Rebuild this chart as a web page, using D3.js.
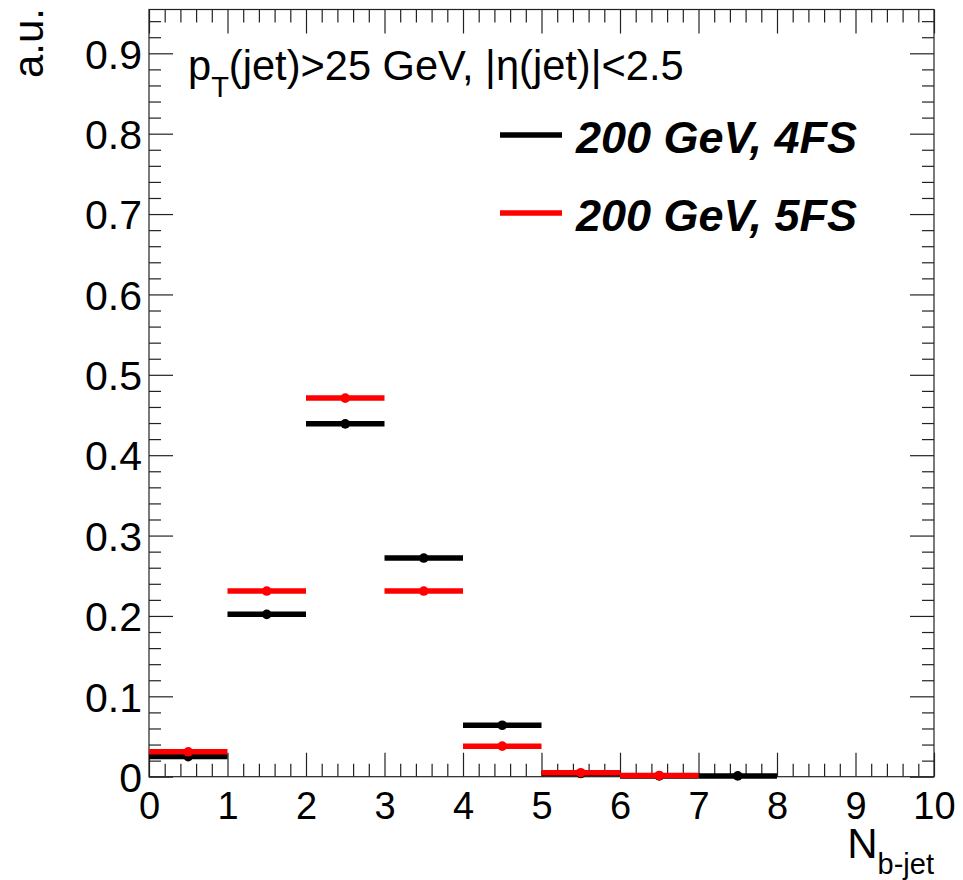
<!DOCTYPE html>
<html><head><meta charset="utf-8">
<script src="https://cdn.jsdelivr.net/npm/d3@7"></script>
<style>
body{margin:0;background:#fff;}
svg{display:block;font-family:"Liberation Sans",Arial,Helvetica,sans-serif;}
</style></head>
<body><svg id="c" width="963" height="880"></svg>
<script>
// Data
const binEdges = [0,1,2,3,4,5,6,7,8,9,10];
const seriesNames = ["200 GeV, 4FS","200 GeV, 5FS"];
const values4FS = [0.025,0.202,0.439,0.272,0.064,0.004,0.001,0.001,0,0];
const values5FS = [0.031,0.231,0.471,0.231,0.038,0.005,0.0015,0,0,0];
const xTickLabels = ["0","1","2","3","4","5","6","7","8","9","10"];
const yTickValues = [0,0.1,0.2,0.3,0.4,0.5,0.6,0.7,0.8,0.9];
const yTickLabels = ["0","0.1","0.2","0.3","0.4","0.5","0.6","0.7","0.8","0.9"];

const svg = d3.select("#c");
const L=149, R=934, T=9.5, B=776.7;
const x = d3.scaleLinear().domain([0,10]).range([L,R]);
const y = d3.scaleLinear().domain([0,0.9545]).range([B,T]);
const frameCol="#222";

// minor ticks
const xMinor = d3.range(0,10.001,0.2).filter(v=>Math.abs(v-Math.round(v))>1e-6);
const yMinor = d3.range(0,0.95,0.02).filter(v=>Math.abs(v*10-Math.round(v*10))>1e-6);

function styleAxis(g){
  g.select(".domain").remove();
  g.selectAll(".tick line").attr("stroke",frameCol).attr("stroke-width",1.2);
}
// bottom
svg.append("g").attr("transform",`translate(0,${B})`)
  .call(d3.axisBottom(x).tickValues(binEdges).tickFormat((d,i)=>xTickLabels[i]).tickSizeInner(-24).tickSizeOuter(0).tickPadding(15))
  .call(styleAxis)
  .call(g=>g.selectAll("text").attr("font-size",38).attr("fill","#000").attr("font-family","Liberation Sans, Arial, sans-serif"));
svg.append("g").attr("transform",`translate(0,${B})`)
  .call(d3.axisBottom(x).tickValues(xMinor).tickFormat("").tickSizeInner(-13).tickSizeOuter(0)).call(styleAxis);
// top
svg.append("g").attr("transform",`translate(0,${T})`)
  .call(d3.axisTop(x).tickValues(binEdges).tickFormat("").tickSizeInner(-24).tickSizeOuter(0)).call(styleAxis);
svg.append("g").attr("transform",`translate(0,${T})`)
  .call(d3.axisTop(x).tickValues(xMinor).tickFormat("").tickSizeInner(-13).tickSizeOuter(0)).call(styleAxis);
// left
svg.append("g").attr("transform",`translate(${L},0)`)
  .call(d3.axisLeft(y).tickValues(yTickValues).tickFormat((d,i)=>yTickLabels[i]).tickSizeInner(-24).tickSizeOuter(0).tickPadding(7))
  .call(styleAxis)
  .call(g=>g.selectAll("text").attr("font-size",41).attr("fill","#000").attr("font-family","Liberation Sans, Arial, sans-serif").attr("dy","0.36em"));
svg.append("g").attr("transform",`translate(${L},0)`)
  .call(d3.axisLeft(y).tickValues(yMinor).tickFormat("").tickSizeInner(-12).tickSizeOuter(0)).call(styleAxis);
// right
svg.append("g").attr("transform",`translate(${R},0)`)
  .call(d3.axisRight(y).tickValues(yTickValues).tickFormat("").tickSizeInner(-24).tickSizeOuter(0)).call(styleAxis);
svg.append("g").attr("transform",`translate(${R},0)`)
  .call(d3.axisRight(y).tickValues(yMinor).tickFormat("").tickSizeInner(-12).tickSizeOuter(0)).call(styleAxis);

// frame
svg.append("rect").attr("x",L).attr("y",T).attr("width",R-L).attr("height",B-T)
  .attr("fill","none").attr("stroke",frameCol).attr("stroke-width",1.2);

// histograms
const series = [
  {name:seriesNames[0], vals:values4FS, color:"#000"},
  {name:seriesNames[1], vals:values5FS, color:"#ff0000"}
];
series.forEach(s=>{
  const g = svg.append("g");
  s.vals.forEach((v,i)=>{
    if(v<=0) return;
    g.append("line").attr("x1",x(binEdges[i])).attr("x2",x(binEdges[i+1]))
      .attr("y1",y(v)).attr("y2",y(v)).attr("stroke",s.color).attr("stroke-width",5.5);
    g.append("circle").attr("cx",x((binEdges[i]+binEdges[i+1])/2)).attr("cy",y(v))
      .attr("r",4.8).attr("fill",s.color);
  });
});

// legend
const legY=[135,213];
series.forEach((s,i)=>{
  svg.append("line").attr("x1",500).attr("x2",562).attr("y1",legY[i]).attr("y2",legY[i])
    .attr("stroke",s.color).attr("stroke-width",5.5);
  svg.append("text").attr("x",576).attr("y",legY[i]+18).attr("font-size",45)
    .attr("font-weight","bold").attr("font-style","italic").attr("fill","#000").text(s.name);
});

// cut text
const t = svg.append("text").attr("x",188).attr("y",80).attr("font-size",41.6).attr("fill","#000");
t.append("tspan").text("p");
t.append("tspan").attr("font-size",29).attr("dy",17).text("T");
t.append("tspan").attr("dy",-17).text("(jet)>25 GeV, |η(jet)|<2.5");

// axis titles
svg.append("text").attr("transform","translate(43,8) rotate(-90)").attr("text-anchor","end")
  .attr("font-size",42).attr("fill","#000").text("a.u.");
const xt = svg.append("text").attr("x",934).attr("y",858).attr("text-anchor","end").attr("font-size",42).attr("fill","#000");
xt.append("tspan").text("N");
xt.append("tspan").attr("font-size",29).attr("dy",16).text("b-jet");
</script></body></html>
